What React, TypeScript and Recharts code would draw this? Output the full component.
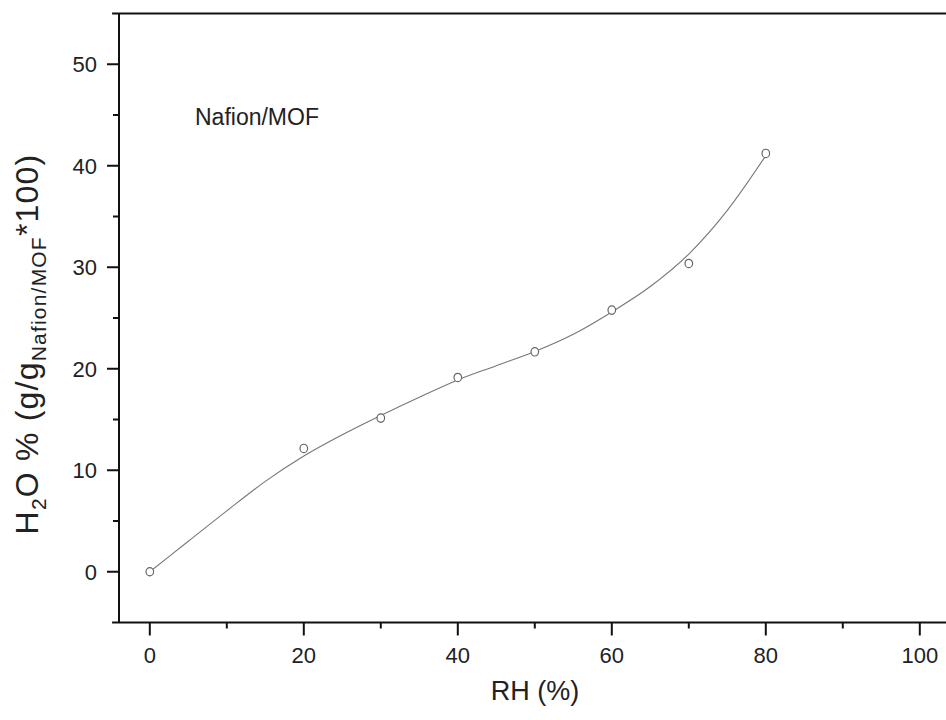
import { ComposedChart, Line, Scatter, XAxis, YAxis, ReferenceLine } from 'recharts'

// measured water uptake (open circles)
const rh = [0, 20, 30, 40, 50, 60, 70, 80]
const uptake = [0, 12.15, 15.14, 19.14, 21.67, 25.78, 30.37, 41.21]

// fitted curve, every 5 % RH
const fitRh = [0, 5, 10, 15, 20, 25, 30, 35, 40, 45, 50, 55, 60, 65, 70, 75, 80]
const fitUptake = [0, 3.0, 6.0, 8.9, 11.4, 13.5, 15.4, 17.2, 18.9, 20.3, 21.7, 23.4, 25.6, 28.1, 31.3, 35.6, 41.0]

const xTicks = [0, 10, 20, 30, 40, 50, 60, 70, 80, 90, 100]
const xLabels = [0, 20, 40, 60, 80, 100]
const yTicks = [0, 5, 10, 15, 20, 25, 30, 35, 40, 45, 50]
const yLabels = [0, 10, 20, 30, 40, 50]

const points = rh.map((x, i) => ({ x, y: uptake[i] }))
const fit = fitRh.map((x, i) => ({ x, y: fitUptake[i] }))

const FONT = '"Liberation Sans", Arial, sans-serif'
const INK = '#111'

const XTick = ({ x, y, payload }: any) => {
  const major = xLabels.includes(payload.value)
  return (
    <g>
      <line x1={x} x2={x} y1={y} y2={y + (major ? 13 : 6)} stroke={INK} strokeWidth={2} />
      {major && (
        <text x={x} y={y + 40} textAnchor="middle" fontSize={22} fontFamily={FONT} fill="#222">
          {payload.value}
        </text>
      )}
    </g>
  )
}

const YTick = ({ x, y, payload }: any) => {
  const major = yLabels.includes(payload.value)
  return (
    <g>
      <line x1={x - (major ? 12 : 6)} x2={x} y1={y} y2={y} stroke={INK} strokeWidth={2} />
      {major && (
        <text x={x - 22} y={y + 8} textAnchor="end" fontSize={22} fontFamily={FONT} fill="#222">
          {payload.value}
        </text>
      )}
    </g>
  )
}

const YTitle = () => (
  <text
    transform="translate(38, 344) rotate(-90)"
    textAnchor="middle"
    fontSize={32}
    letterSpacing={1.2}
    fontFamily={FONT}
    fill="#222"
  >
    H<tspan fontSize={21} dy={8}>2</tspan>
    <tspan dy={-8}>O % (g/g</tspan>
    <tspan fontSize={21} dy={8}>Nafion/MOF</tspan>
    <tspan dy={-8}>*100)</tspan>
  </text>
)

const XTitle = () => (
  <text x={535} y={700} textAnchor="middle" fontSize={27} fontFamily={FONT} fill="#222">
    RH (%)
  </text>
)

const OpenCircle = ({ cx, cy }: any) => (
  <ellipse cx={cx} cy={cy} rx={3.8} ry={4.2} fill="#fff" stroke="#666" strokeWidth={1.2} />
)

export default function App() {
  return (
    <div style={{ position: 'absolute', left: 0, top: 0, width: 946, height: 720, overflow: 'hidden', background: '#fff' }}>
      <ComposedChart width={952} height={720} margin={{ top: 13.5, right: 1.4, bottom: 0, left: 0 }}>
        <XAxis
          type="number"
          dataKey="x"
          domain={[-4, 104]}
          ticks={xTicks}
          tick={<XTick />}
          tickLine={false}
          tickSize={0}
          tickMargin={0}
          height={97.5}
          axisLine={{ stroke: INK, strokeWidth: 2 }}
          allowDataOverflow
          label={{ content: () => <XTitle /> }}
        />
        <YAxis
          type="number"
          dataKey="y"
          domain={[-5, 55]}
          ticks={yTicks}
          tick={<YTick />}
          tickLine={false}
          tickSize={0}
          tickMargin={0}
          width={119}
          axisLine={{ stroke: INK, strokeWidth: 2 }}
          allowDataOverflow
          label={{ content: () => <YTitle /> }}
        />
        {/* frame lines poke a few px past the y axis, as in the original */}
        <ReferenceLine
          segment={[{ x: -4.9, y: 55 }, { x: 104, y: 55 }]}
          stroke={INK}
          strokeWidth={2}
          ifOverflow="visible"
        />
        <ReferenceLine
          segment={[{ x: -4.9, y: -5 }, { x: -4, y: -5 }]}
          stroke={INK}
          strokeWidth={2}
          ifOverflow="visible"
        />
        <Line
          data={fit}
          dataKey="y"
          type="monotone"
          stroke="#777"
          strokeWidth={1.1}
          dot={false}
          activeDot={false}
          isAnimationActive={false}
        />
        <Scatter data={points} dataKey="y" shape={<OpenCircle />} isAnimationActive={false} />
        <text x={195} y={125} fontSize={23} fontFamily={FONT} fill="#222">
          Nafion/MOF
        </text>
      </ComposedChart>
    </div>
  )
}
